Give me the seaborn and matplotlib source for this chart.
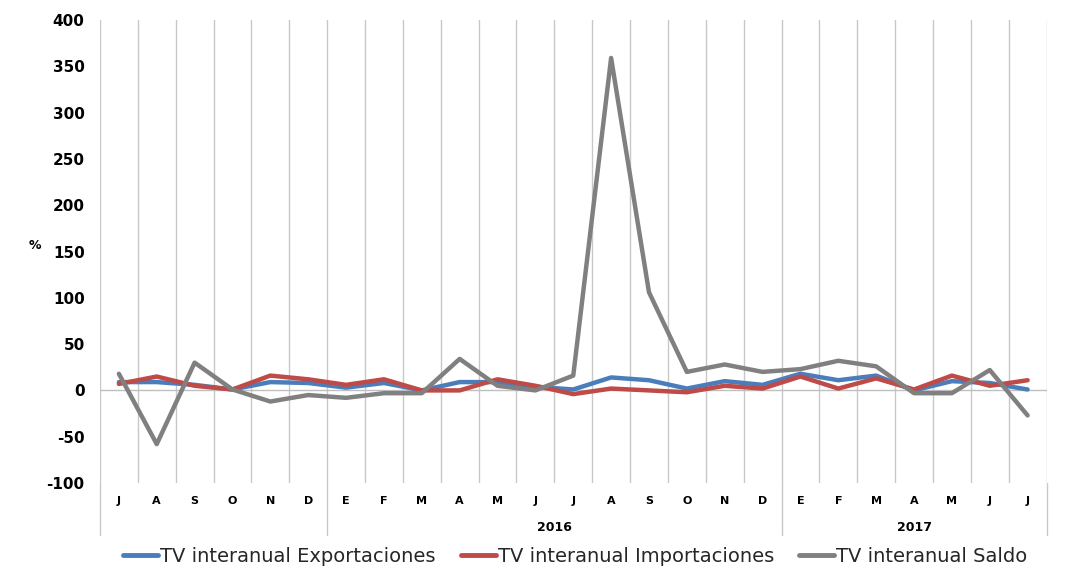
import pandas as pd
import matplotlib.pyplot as plt
import matplotlib.transforms as mtransforms
import seaborn as sns

# Datos (julio 2015 - julio 2017)
meses = ["J", "A", "S", "O", "N", "D",
         "E", "F", "M", "A", "M", "J", "J", "A", "S", "O", "N", "D",
         "E", "F", "M", "A", "M", "J", "J"]
exportaciones = [9, 9, 6, 1, 9, 8, 3, 8, 0, 9, 9, 4, 1, 14, 11, 2, 10, 6,
                 18, 11, 16, 0, 10, 8, 1]
importaciones = [7, 15, 5, 1, 16, 12, 6, 12, 0, 0, 12, 5, -4, 2, 0, -2, 5, 2,
                 15, 2, 13, 1, 16, 5, 11]
saldo = [18, -58, 30, 1, -12, -5, -8, -3, -3, 34, 5, 0, 16, 359, 106, 20, 28, 20,
         23, 32, 26, -3, -3, 22, -27]
series = ["TV interanual Exportaciones", "TV interanual Importaciones", "TV interanual Saldo"]
colores = ["#4A7EBB", "#BE4B48", "#808080"]
grupos = [("", 0, 5), ("2016", 6, 17), ("2017", 18, 24)]

pos = list(range(len(meses)))
df = pd.DataFrame({
    "pos": pos * 3,
    "valor": exportaciones + importaciones + saldo,
    "serie": [series[0]] * len(pos) + [series[1]] * len(pos) + [series[2]] * len(pos),
})

sns.set_style("white")
plt.rcParams["font.family"] = ["DejaVu Sans"]
plt.rcParams["axes.unicode_minus"] = False

fig = plt.figure(figsize=(10.69, 5.83), dpi=100)
ax = fig.add_axes([0.0935, 0.1715, 0.8855, 0.7942])

sns.lineplot(data=df, x="pos", y="valor", hue="serie", hue_order=series,
             palette=colores, linewidth=3.2, ax=ax, legend=False)

ax.set_xlim(-0.5, len(meses) - 0.5)
ax.set_ylim(-100, 400)
ax.set_yticks(range(-100, 401, 50))
ax.tick_params(axis="y", length=0, pad=11, labelsize=11, labelcolor="black")
for t in ax.get_yticklabels():
    t.set_fontweight("bold")

ax.set_xticks(pos)
ax.set_xticklabels(meses, fontsize=8, fontweight="bold")
ax.tick_params(axis="x", length=0, pad=9, labelcolor="black")
ax.set_xlabel("")
ax.set_ylabel("%", rotation=0, fontsize=9, fontweight="bold", color="black")
ax.yaxis.set_label_coords(-0.069, 0.5)

for s in ax.spines.values():
    s.set_visible(False)

# rejilla vertical entre categorias
for x in [p - 0.5 for p in pos] + [len(meses) - 0.5]:
    ax.axvline(x, color="#c8c8c8", linewidth=1, zorder=0)
ax.axhline(0, color="#bfbfbf", linewidth=1, zorder=0.5)

# separadores de grupo y años debajo del eje
trans = mtransforms.blended_transform_factory(ax.transData, ax.transAxes)
bordes = [-0.5, 5.5, 17.5, len(meses) - 0.5]
for b in bordes:
    ax.plot([b, b], [0, -0.113], transform=trans, color="#c8c8c8",
            linewidth=1, clip_on=False)
for nombre, a, b in grupos:
    if nombre:
        ax.text((a + b) / 2, -0.095, nombre, transform=trans, ha="center",
                va="center", fontsize=9, fontweight="bold", color="black")

handles = [plt.Line2D([], [], color=c, linewidth=3.5) for c in colores]
fig.legend(handles, series, loc="center", bbox_to_anchor=(0.538, 0.045), ncol=3,
           frameon=False, fontsize=14, handlelength=1.8, handletextpad=0.1,
           columnspacing=1.3, labelcolor="#262626")

fig.savefig("out.png", dpi=100)
